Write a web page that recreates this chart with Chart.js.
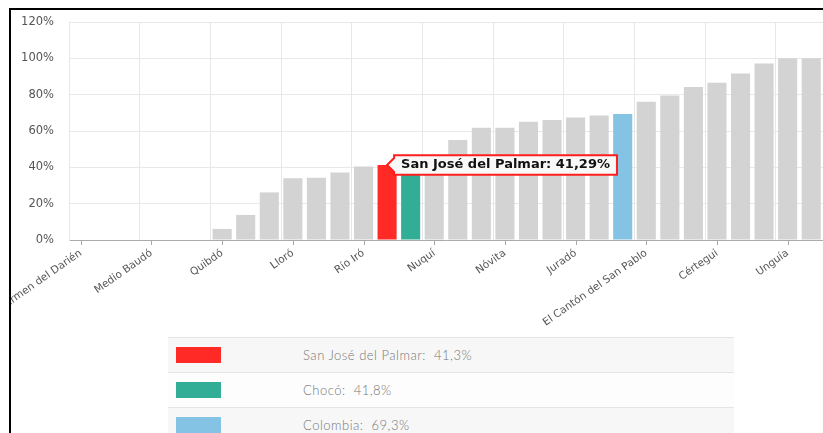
<!DOCTYPE html>
<html><head><meta charset="utf-8">
<script src="https://cdn.jsdelivr.net/npm/chart.js@4.4.0/dist/chart.umd.min.js"></script>
<style>
html,body{margin:0;padding:0;background:#fff;overflow:hidden;width:823px;height:433px;}
#frame{position:absolute;left:9px;top:8px;width:900px;height:500px;border-top:2px solid #000;border-left:2px solid #000;}
#wrap{position:absolute;left:11px;top:10px;width:812px;height:320px;overflow:hidden;}
#legend{position:absolute;left:168px;top:337px;width:566px;border-collapse:collapse;font-family:Lato,'Open Sans',sans-serif;font-weight:300;color:#777;font-size:13px;letter-spacing:0.5px;}
#legend td{height:34px;border-top:1px solid #e4e4e4;padding:0;vertical-align:middle;}
#legend tr:nth-child(odd){background:#f7f7f7;}
#legend tr:nth-child(even){background:#fdfdfd;}
#legend .sw{width:127px;padding-left:8px;}
#legend .sw span{display:block;width:45px;height:16px;}
</style>
</head><body>
<div id="frame"></div>
<div id="wrap"><canvas id="c" width="812" height="320"></canvas></div>
<table id="legend"></table>
<script>
const categories = ['Carmen del Darién','Bojayá','Medio Atrato','Medio Baudó','Alto Baudó','Bajo Baudó','Quibdó','Riosucio','El Litoral del San Juan','Lloró','Sipí','Río Quito','Río Iró','San José del Palmar','Chocó','Nuquí','Bagadó','Medio San Juan','Nóvita','Atrato','Tadó','Juradó','Acandí','Colombia','El Cantón del San Pablo','Bahía Solano','Istmina','Cértegui','Condoto','El Carmen de Atrato','Unguía','Unión Panamericana'];
const values = [0,0,0,0,0,0,6.1,13.8,26.2,34,34.3,37.2,40.5,41.29,41.8,44,55,61.8,61.8,65.1,66,67.5,68.6,69.3,76.1,79.6,84.2,86.6,91.6,97.2,100,100];
const yTicks = [0,20,40,60,80,100,120];
const legendLabels = ['San José del Palmar','Chocó','Colombia'];
const legendValues = [41.3,41.8,69.3];
const legendColors = ['#ff2a26','#33ae96','#85c3e4'];
const baseColor = '#d3d3d3';
const tooltipIndex = categories.indexOf('San José del Palmar');

const barColors = categories.map(c => {
  const k = legendLabels.indexOf(c);
  return k >= 0 ? legendColors[k] : baseColor;
});

const tickMarks = {
  id: 'tickMarks',
  afterDatasetsDraw(chart) {
    const s = chart.scales.x, ctx = chart.ctx;
    ctx.save();
    ctx.strokeStyle = '#a8a8a8';
    ctx.lineWidth = 1;
    s.ticks.forEach((t, i) => {
      if (i % 3) return;
      const x = Math.round(s.getPixelForTick(i)) + 0.5;
      ctx.beginPath(); ctx.moveTo(x, s.top); ctx.lineTo(x, s.top + 5); ctx.stroke();
    });
    ctx.restore();
  }
};

const chart = new Chart(document.getElementById('c'), {
  type: 'bar',
  data: {
    labels: categories,
    datasets: [{
      data: values,
      backgroundColor: barColors,
      hoverBackgroundColor: barColors,
      borderWidth: 0,
      barPercentage: 0.81,
      categoryPercentage: 1
    }]
  },
  options: {
    responsive: false,
    animation: false,
    events: [],
    layout: { padding: { top: 12, left: 0, right: 0, bottom: 0 } },
    plugins: {
      legend: { display: false },
      tooltip: {
        enabled: true,
        backgroundColor: '#f8f8f8',
        borderColor: '#ff1e1e',
        borderWidth: 2,
        cornerRadius: 0,
        displayColors: false,
        caretSize: 7,
        caretPadding: 0,
        xAlign: 'left',
        yAlign: 'center',
        padding: { x: 7, y: 2 },
        bodyColor: '#111',
        bodyFont: { family: 'DejaVu Sans', weight: 'bold', size: 13 },
        callbacks: {
          title: () => '',
          label: ctx => ctx.label + ': ' + ctx.parsed.y.toFixed(2).replace('.', ',') + '%'
        }
      }
    },
    scales: {
      x: {
        offset: true,
        grid: {
          offset: true,
          drawTicks: false,
          color: ctx => (ctx.index % 3 === 0 ? '#e6e6e6' : 'rgba(0,0,0,0)')
        },
        border: { color: '#ababab', width: 1 },
        ticks: {
          autoSkip: false,
          minRotation: 35,
          maxRotation: 35,
          padding: 7,
          color: '#555',
          font: { family: 'DejaVu Sans', size: 10.5 },
          callback: (v, i) => (i % 3 === 0 ? categories[i] : '')
        },
        afterFit: s => { s.height = 90; s.paddingLeft = 0; s.paddingRight = 0; s.paddingTop = 0; s.paddingBottom = 0; }
      },
      y: {
        min: yTicks[0],
        max: yTicks[yTicks.length - 1],
        afterBuildTicks: s => { s.ticks = yTicks.map(v => ({ value: v })); },
        grid: { color: '#e8e8e8', drawTicks: false },
        border: { color: '#e6e6e6' },
        ticks: {
          padding: 15,
          color: '#555',
          font: { family: 'DejaVu Sans', size: 11.5 },
          callback: v => v + '%'
        },
        afterFit: s => { s.width = 58; s.paddingTop = 0; s.paddingBottom = 0; s.paddingLeft = 0; s.paddingRight = 0; }
      }
    }
  },
  plugins: [tickMarks]
});

chart.tooltip.setActiveElements([{ datasetIndex: 0, index: tooltipIndex }], { x: 0, y: 0 });
chart.draw();

const table = document.getElementById('legend');
legendLabels.forEach((lab, i) => {
  const tr = document.createElement('tr');
  const td1 = document.createElement('td');
  td1.className = 'sw';
  const sp = document.createElement('span');
  sp.style.background = legendColors[i];
  td1.appendChild(sp);
  const td2 = document.createElement('td');
  td2.textContent = lab + ':  ' + legendValues[i].toFixed(1).replace('.', ',') + '%';
  td2.style.whiteSpace = 'pre';
  tr.appendChild(td1); tr.appendChild(td2);
  table.appendChild(tr);
});
</script>
</body></html>
